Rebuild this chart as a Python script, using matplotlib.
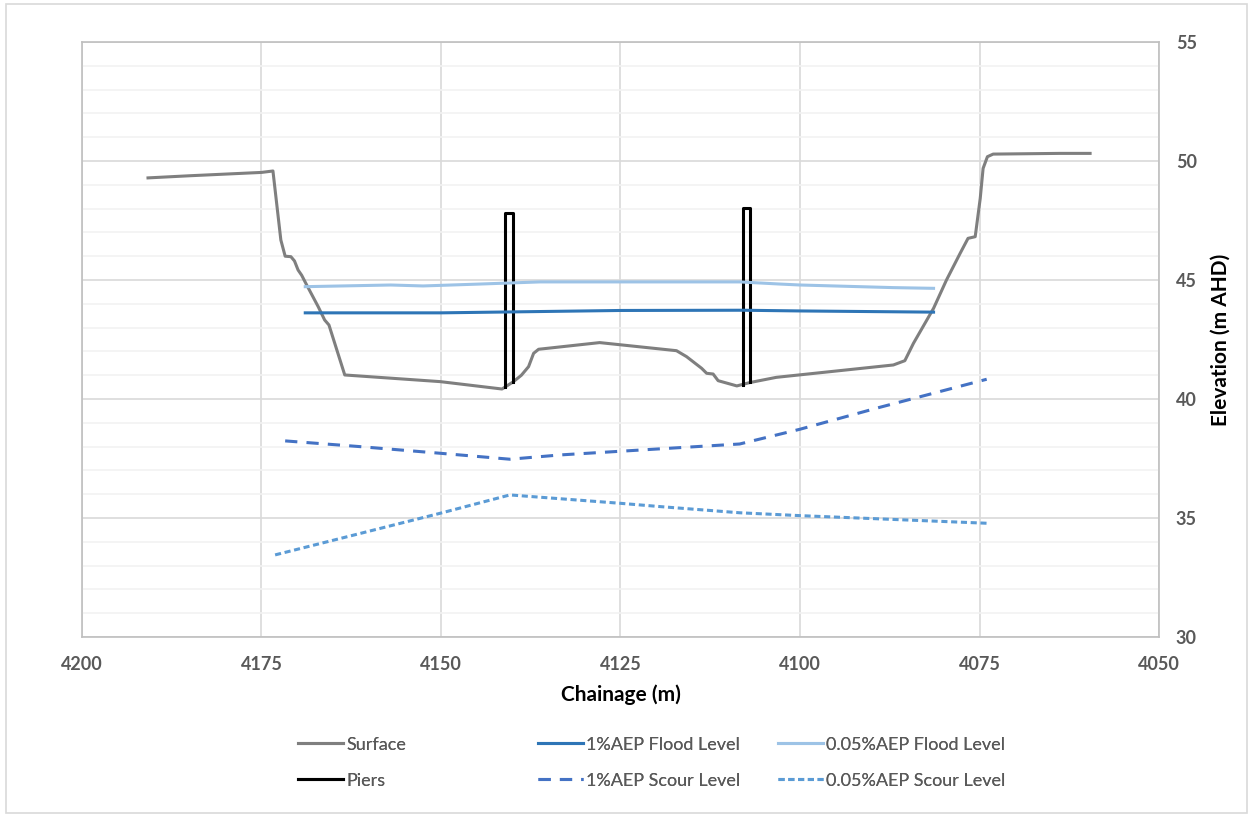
import numpy as np
import matplotlib
matplotlib.use('Agg')
import matplotlib.pyplot as plt
from matplotlib.patches import Rectangle

plt.rcParams['font.family'] = ['Lato', 'DejaVu Sans']

# ground surface
surf_x = [4190.8, 4185.0, 4180.0, 4175.0, 4173.4, 4172.3, 4171.7, 4170.9, 4170.4,
          4169.9, 4169.4, 4168.7, 4167.1, 4166.2, 4165.6, 4164.5, 4163.4, 4150.1,
          4141.5, 4139.9, 4138.8, 4137.8, 4137.1, 4136.4, 4127.9, 4117.2, 4115.8,
          4113.7, 4113.0, 4112.1, 4111.4, 4108.8, 4107.0, 4103.3, 4087.0, 4085.4,
          4084.2, 4081.4, 4079.6, 4077.7, 4076.6, 4075.6, 4074.9, 4074.5, 4073.9,
          4073.1, 4063.8, 4059.6]
surf_y = [49.29, 49.38, 49.45, 49.52, 49.58, 46.68, 46.00, 45.98, 45.80,
          45.42, 45.20, 44.79, 43.88, 43.32, 43.11, 42.06, 41.01, 40.73,
          40.42, 40.73, 41.00, 41.36, 41.92, 42.09, 42.37, 42.03, 41.78,
          41.29, 41.08, 41.05, 40.77, 40.55, 40.69, 40.91, 41.43, 41.61,
          42.34, 43.81, 45.00, 46.12, 46.75, 46.82, 48.43, 49.69, 50.18,
          50.29, 50.32, 50.32]

# piers (outline)
pier1_x = [4141.1, 4141.1, 4139.9, 4139.9]
pier1_y = [40.5, 47.8, 47.8, 40.7]
pier2_x = [4108.0, 4108.0, 4107.0, 4107.0]
pier2_y = [40.6, 48.04, 48.04, 40.7]

# flood levels
fl1_x = [4168.9, 4150.0, 4140.0, 4125.0, 4108.0, 4100.0, 4081.4]
fl1_y = [43.62, 43.62, 43.66, 43.72, 43.73, 43.70, 43.65]
fl005_x = [4168.9, 4157.0, 4152.5, 4144.6, 4136.2, 4108.4, 4102.8, 4100.0, 4087.0, 4081.4]
fl005_y = [44.72, 44.79, 44.75, 44.83, 44.92, 44.92, 44.83, 44.79, 44.68, 44.65]

# scour levels
sc1_x = [4171.7, 4161.3, 4150.1, 4140.4, 4133.4, 4120.4, 4108.4, 4100.0, 4088.9, 4074.0]
sc1_y = [38.24, 38.00, 37.72, 37.47, 37.65, 37.89, 38.11, 38.73, 39.65, 40.83]
sc005_x = [4173.1, 4150.1, 4140.4, 4125.1, 4119.5, 4108.4, 4100.0, 4074.0]
sc005_y = [33.45, 35.20, 35.97, 35.62, 35.48, 35.22, 35.10, 34.78]

xticks = [4200, 4175, 4150, 4125, 4100, 4075, 4050]
yticks = [30, 35, 40, 45, 50, 55]

fig = plt.figure(figsize=(12.53, 8.17), dpi=100)
fig.patches.append(Rectangle((0.005, 0.005), 0.99, 0.99, transform=fig.transFigure,
                             fill=False, edgecolor='#D9D9D9', lw=1.2))
ax = fig.add_axes([0.0654, 0.2203, 0.8596, 0.7283])

h_surf, = ax.plot(surf_x, surf_y, color='#7F7F7F', lw=2.2, label='Surface')
h_pier, = ax.plot(pier1_x, pier1_y, color='black', lw=2.2, label='Piers')
ax.plot(pier2_x, pier2_y, color='black', lw=2.2)
h_fl1, = ax.plot(fl1_x, fl1_y, color='#2E75B6', lw=2.2, label='1%AEP Flood Level')
h_fl005, = ax.plot(fl005_x, fl005_y, color='#9DC3E6', lw=2.2, label='0.05%AEP Flood Level')
h_sc1, = ax.plot(sc1_x, sc1_y, color='#4472C4', lw=2.2, dashes=(4, 3), label='1%AEP Scour Level')
h_sc005, = ax.plot(sc005_x, sc005_y, color='#5B9BD5', lw=2.2, dashes=(2, 1.2), label='0.05%AEP Scour Level')

ax.set_xlim(4200, 4050)
ax.set_ylim(30, 55)
ax.set_xticks(xticks)
ax.set_yticks(yticks)
ax.set_yticks(np.arange(30, 56, 1), minor=True)
ax.yaxis.tick_right()
ax.yaxis.set_label_position('right')
ax.tick_params(axis='both', which='both', length=0, labelsize=13, labelcolor='#595959')
ax.tick_params(axis='x', pad=14)
ax.tick_params(axis='y', pad=12)
for lab in ax.get_xticklabels() + ax.get_yticklabels():
    lab.set_fontweight('bold')
ax.grid(True, which='major', color='#D9D9D9', lw=1.2)
ax.grid(True, which='minor', axis='y', color='#F2F2F2', lw=1.2)
ax.set_axisbelow(True)
for s in ax.spines.values():
    s.set_color('#BFBFBF')
    s.set_linewidth(1.2)

ax.set_xlabel('Chainage (m)', fontsize=15, fontweight='bold', labelpad=8)
ax.set_ylabel('Elevation (m AHD)', fontsize=15, fontweight='bold', labelpad=10)

# legend: three columns placed separately so they sit on a fixed spacing
cols = [[h_surf, h_pier], [h_fl1, h_sc1], [h_fl005, h_sc005]]
col_x = [0.2322, 0.4238, 0.6153]
for hs, cx in zip(cols, col_x):
    lg = fig.legend(hs, [h.get_label() for h in hs], loc='upper left',
                    bbox_to_anchor=(cx, 0.107), ncol=1, frameon=False,
                    fontsize=13, handlelength=2.5, handletextpad=0.15,
                    labelspacing=1.1, labelcolor='#595959', borderaxespad=0)
    fig.add_artist(lg)

fig.savefig('out.png', dpi=100)
